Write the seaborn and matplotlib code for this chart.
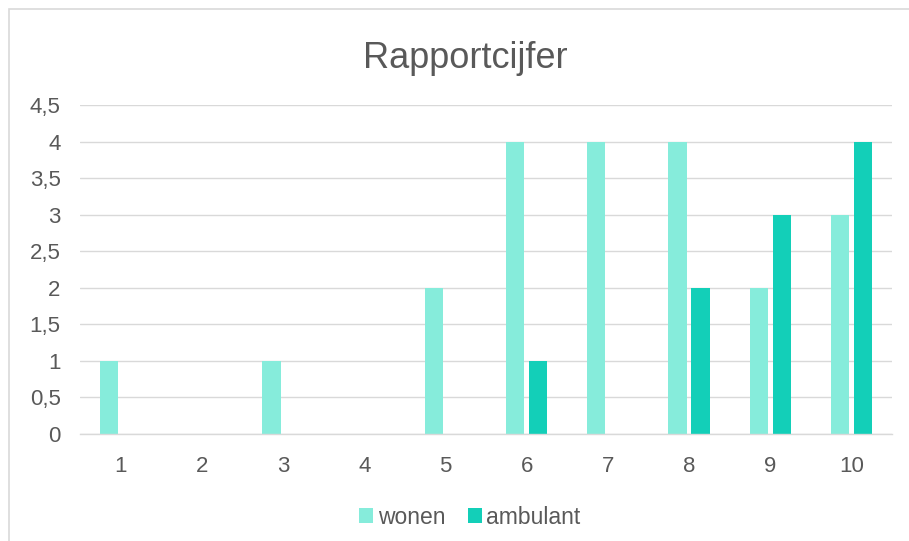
import pandas as pd
import matplotlib.pyplot as plt
import seaborn as sns
from matplotlib.patches import Rectangle

# Data
cijfers = ['1', '2', '3', '4', '5', '6', '7', '8', '9', '10']
wonen = [1, 0, 1, 0, 2, 4, 4, 4, 2, 3]
ambulant = [0, 0, 0, 0, 0, 1, 0, 2, 3, 4]
groepen = ['wonen', 'ambulant']
y_ticks = [0, 0.5, 1, 1.5, 2, 2.5, 3, 3.5, 4, 4.5]
y_labels = ['0', '0,5', '1', '1,5', '2', '2,5', '3', '3,5', '4', '4,5']

kleuren = ['#86ECDB', '#13CFB8']
tekst_kleur = '#595959'
grid_kleur = '#D9D9D9'


def main():
    df = pd.DataFrame({
        'cijfer': cijfers * 2,
        'aantal': wonen + ambulant,
        'groep': [groepen[0]] * len(cijfers) + [groepen[1]] * len(cijfers),
    })

    sns.set_theme(style='white')
    plt.rcParams['font.family'] = ['Liberation Sans', 'DejaVu Sans']

    fig = plt.figure(figsize=(9.09, 5.41), dpi=100)
    ax = fig.add_axes([80 / 909, 107 / 541, 812 / 909, 329 / 541])

    sns.barplot(data=df, x='cijfer', y='aantal', hue='groep', order=cijfers,
                hue_order=groepen, palette=kleuren, saturation=1,
                width=0.5665, gap=0.217, linewidth=0, ax=ax, legend=True)

    ax.set_ylim(0, 4.5)
    ax.set_xlim(-0.5, len(cijfers) - 0.5)
    ax.set_yticks(y_ticks)
    ax.set_yticklabels(y_labels)
    ax.yaxis.grid(True, color=grid_kleur, linewidth=1.0)
    ax.set_axisbelow(True)
    for side in ['top', 'right', 'left']:
        ax.spines[side].set_visible(False)
    ax.spines['bottom'].set_color(grid_kleur)
    ax.spines['bottom'].set_linewidth(1.0)
    ax.tick_params(axis='y', length=0, pad=14, labelsize=16, labelcolor=tekst_kleur)
    ax.tick_params(axis='x', length=0, pad=16, labelsize=16, labelcolor=tekst_kleur)
    ax.set_xlabel('')
    ax.set_ylabel('')

    fig.text(465 / 909, 1 - 68 / 541, 'Rapportcijfer', ha='center', va='baseline',
             fontsize=26, color=tekst_kleur)

    handles, labels = ax.get_legend_handles_labels()
    ax.legend(handles, labels, loc='center', bbox_to_anchor=(470 / 909, 1 - 517 / 541),
              bbox_transform=fig.transFigure, ncol=2, frameon=False,
              fontsize=16.5, labelcolor=tekst_kleur, handlelength=0.6,
              handleheight=0.6, handletextpad=0.2, columnspacing=1.0)

    # Chart border (only left and top visible in the crop)
    fig.patches.append(Rectangle((9 / 909, -0.1), 1.2, 1 - 9 / 541 + 0.1,
                                 transform=fig.transFigure, fill=False,
                                 edgecolor=grid_kleur, linewidth=1.2))

    fig.savefig('out.png', dpi=100)
    plt.close(fig)


if __name__ == '__main__':
    main()
